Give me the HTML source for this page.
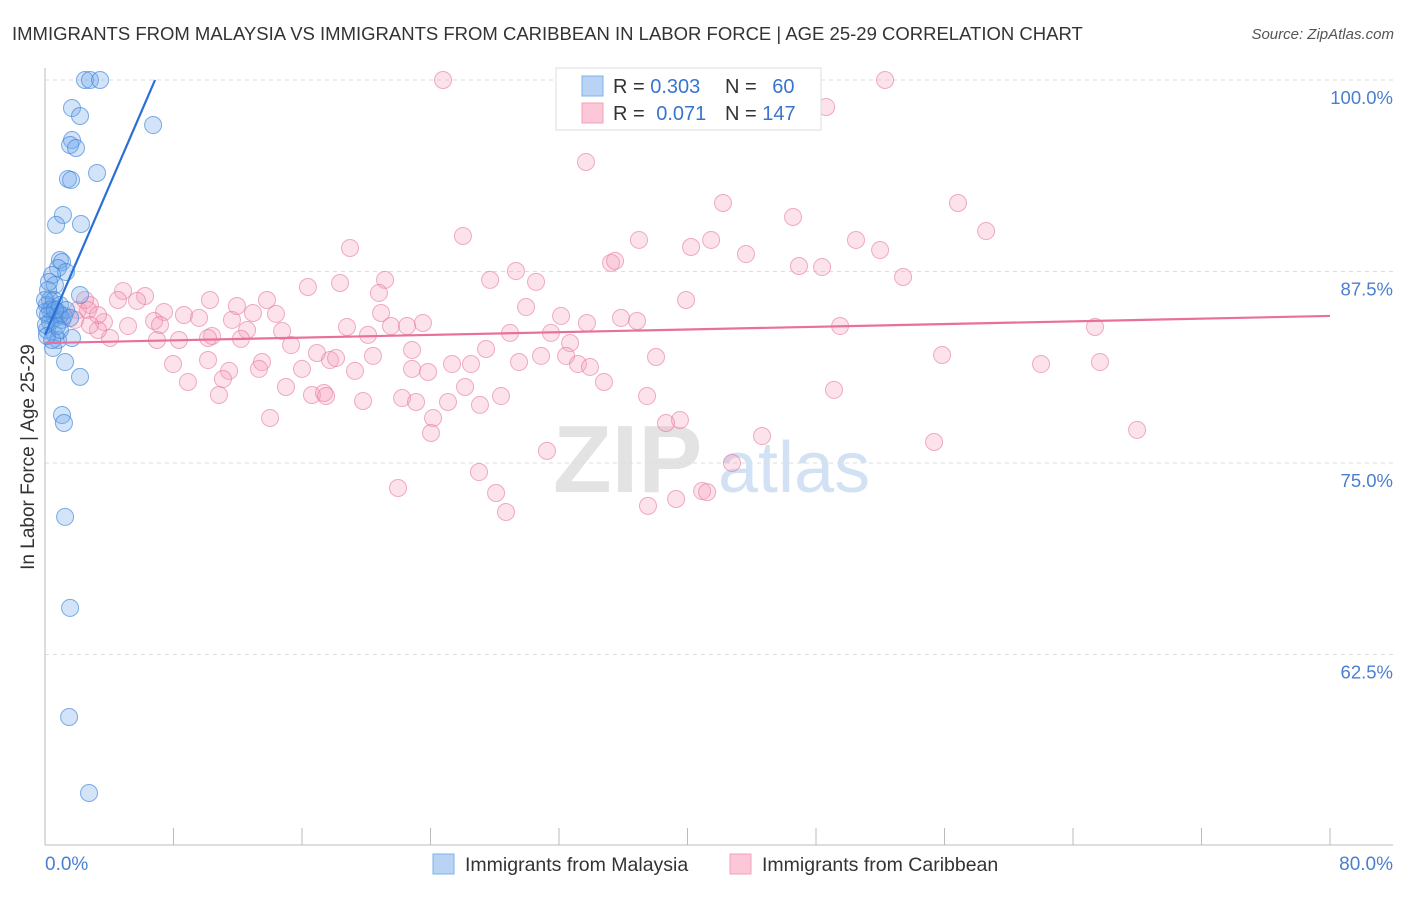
<!DOCTYPE html>
<html><head><meta charset="utf-8"><style>
body{margin:0;background:#fff;font-family:"Liberation Sans",sans-serif;}
svg text{font-family:"Liberation Sans",sans-serif;}
</style></head><body>
<svg id="chart" width="1406" height="892" viewBox="0 0 1406 892" xmlns="http://www.w3.org/2000/svg">
<text x="12" y="40" font-size="18.5" fill="#333">IMMIGRANTS FROM MALAYSIA VS IMMIGRANTS FROM CARIBBEAN IN LABOR FORCE | AGE 25-29 CORRELATION CHART</text>
<text x="1394" y="39" font-size="15" fill="#555" font-style="italic" text-anchor="end">Source: ZipAtlas.com</text>
<g>
<text x="553" y="492" font-size="96" fill="#ddd" font-family="Liberation Serif" font-weight="bold" opacity="0.8">ZIP</text>
<text x="718" y="492" font-size="72" fill="#c7dbf2" opacity="0.8">atlas</text>
</g>
<g id="grid"></g>
<g id="axes"></g>
<g id="pts"></g>
<g id="lines"></g>
<text transform="translate(34,457) rotate(-90)" font-size="19" fill="#333" text-anchor="middle">In Labor Force | Age 25-29</text>
<g>
<rect x="556" y="68" width="265" height="62" fill="#fff" stroke="#ddd"/>
<rect x="582" y="76" width="21" height="20" fill="#b9d3f5" stroke="#7fb0ea"/>
<rect x="582" y="103" width="21" height="20" fill="#fcc8d8" stroke="#f0a0bc"/>
<text x="613" y="93" font-size="20" fill="#333">R = <tspan fill="#3a74d0">0.303</tspan></text>
<text x="725" y="93" font-size="20" fill="#333">N = <tspan fill="#3a74d0" dx="10">60</tspan></text>
<text x="613" y="120" font-size="20" fill="#333">R = <tspan fill="#3a74d0" dx="6">0.071</tspan></text>
<text x="725" y="120" font-size="20" fill="#333">N = <tspan fill="#3a74d0">147</tspan></text>
</g>
<g>
<rect x="433" y="854" width="21" height="20" fill="#b9d3f5" stroke="#7fb0ea"/>
<text x="465" y="871" font-size="19.5" fill="#333">Immigrants from Malaysia</text>
<rect x="730" y="854" width="21" height="20" fill="#fcc8d8" stroke="#f0a0bc"/>
<text x="762" y="871" font-size="19.5" fill="#333">Immigrants from Caribbean</text>
</g>
</svg>
<script>
const yTicks=[100,87.5,75,62.5];
const yTickLabels=["100.0%","87.5%","75.0%","62.5%"];
const xTicks=[0,8,16,24,32,40,48,56,64,72,80];
const xEndLabels=["0.0%","80.0%"];
const blueX=[2.49,2.80,3.43,1.68,2.18,1.68,1.56,1.93,6.73,1.43,1.62,3.24,1.12,0.69,2.24,0.93,1.06,0.81,1.31,0.44,0.62,2.18,0.31,0.12,0.44,0.19,0.62,0.93,0.31,0.12,0.62,0.81,1.68,0.50,1.25,2.18,1.06,1.18,1.25,1.56,1.50,2.74,0.19,0.31,0.81,1.06,0,0.56,1.18,0.06,0.75,0.93,0.44,0,0.25,1.31,1.56,0.12,0.62,0.93];
const blueY=[100,100,100,98.17,97.65,96.08,95.76,95.56,97.06,93.54,93.47,93.93,91.19,90.54,90.60,88.25,88.12,87.73,87.47,87.27,86.62,85.97,85.64,85.31,85.12,84.66,84.47,84.66,84.20,83.68,83.36,83.03,83.16,82.51,81.59,80.62,78.13,77.61,71.48,65.54,58.42,53.46,86.29,84.99,84.86,84.34,84.86,85.64,84.60,84.01,83.94,85.31,83.03,85.64,86.82,84.99,84.47,83.29,84.99,83.68];
const pinkX=[24.78,52.30,48.63,33.68,42.21,56.84,46.57,58.59,26.02,36.98,41.47,40.22,50.49,18.99,51.99,43.64,29.32,35.24,35.49,46.94,48.38,27.71,21.17,18.37,16.37,30.57,53.42,39.91,20.79,29.95,4.86,6.23,5.73,4.54,2.80,2.05,3.67,5.17,7.41,8.65,9.59,6.79,11.64,11.95,12.95,13.82,14.38,12.58,14.76,10.40,10.15,8.34,6.97,12.20,4.05,3.30,18.80,20.92,21.54,22.54,23.53,20.11,28.95,31.50,32.13,33.74,35.86,36.86,49.50,65.37,15.32,16.93,17.74,18.12,20.42,22.85,27.46,32.69,29.51,30.88,32.44,33.18,33.93,38.04,55.85,62.01,65.68,7.97,10.15,13.51,11.46,13.32,16.00,19.30,22.85,23.85,25.34,26.52,11.08,8.90,15.00,26.15,34.80,10.83,16.62,17.37,17.50,19.80,22.23,23.10,25.09,27.08,28.39,37.48,49.12,24.16,14.01,39.53,38.66,24.03,44.64,55.35,67.99,31.25,42.77,27.02,21.98,28.08,40.91,41.22,28.70,37.54,39.29,2.49,2.68,0.93,1.87,3.30,2.80,10.27,7.16];
const pinkY=[100,100,98.24,94.65,91.97,91.97,91.06,90.14,89.82,89.56,89.56,89.10,89.56,89.03,88.90,88.64,87.53,88.06,88.19,87.86,87.79,86.95,86.95,86.75,86.49,86.82,87.14,85.64,86.10,85.18,86.23,85.90,85.58,85.64,85.31,84.99,84.20,83.94,84.86,84.66,84.47,84.27,84.34,85.25,84.79,85.64,84.73,83.68,83.62,83.29,83.16,83.03,83.03,83.10,83.16,83.68,83.88,84.79,83.94,83.94,84.14,83.36,83.49,83.49,84.60,84.14,84.47,84.27,83.94,83.88,82.70,82.18,81.72,81.85,81.99,82.38,82.44,82.83,81.59,81.99,81.99,81.46,81.27,81.92,82.05,81.46,81.59,81.46,81.72,81.59,81.01,81.14,81.14,81.01,81.14,80.94,81.46,81.46,80.48,80.29,79.96,79.96,80.29,79.44,79.44,79.57,79.37,79.05,79.24,78.98,78.98,78.79,79.37,79.37,79.77,77.94,77.94,77.81,77.61,76.96,76.76,76.37,77.16,75.79,75.00,74.41,73.37,73.04,73.17,73.10,71.80,72.20,72.65,85.64,84.99,84.66,84.34,84.66,84.01,85.64,84.01];
const blueTrend=[[0,83.36],[6.85,100]];
const pinkTrend=[[0,82.83],[80,84.60]];

const NS="http://www.w3.org/2000/svg";
const X0=45,X1=1330,Y100=80,PXPER=191.5/12.5;
const sx=v=>X0+(v/80)*(X1-X0);
const sy=v=>Y100+(100-v)*PXPER;
function mk(tag,attrs,parent){const e=document.createElementNS(NS,tag);for(const k in attrs)e.setAttribute(k,attrs[k]);parent.appendChild(e);return e;}
const grid=document.getElementById('grid'),axes=document.getElementById('axes'),pts=document.getElementById('pts'),lines=document.getElementById('lines');
yTicks.forEach((t,i)=>{
 const l=mk('line',{x1:X0,x2:1393,y1:sy(t),y2:sy(t),stroke:'#ddd','stroke-dasharray':'4,4'},grid);
 
 
 const tx=mk('text',{x:1393,y:sy(t)+24,'font-size':18.5,fill:'#4a7fd0','text-anchor':'end'},axes);
 
 
 tx.textContent=yTickLabels[i];
});
const ya=mk('line',{x1:X0,x2:X0,y1:68,y2:845,stroke:'#bbb'},axes);


const xa=mk('line',{x1:X0,x2:1393,y1:845,y2:845,stroke:'#bbb'},axes);


xTicks.forEach(t=>{
 const l=mk('line',{x1:sx(t),x2:sx(t),y1:828,y2:845,stroke:'#bbb'},axes);
 
 
});
const xl0=mk('text',{x:45,y:870,'font-size':19,fill:'#4a7fd0'},axes);


xl0.textContent=xEndLabels[0];
const xl1=mk('text',{x:1393,y:870,'font-size':19,fill:'#4a7fd0','text-anchor':'end'},axes);


xl1.textContent=xEndLabels[1];
pinkX.forEach((v,i)=>{
 const c=mk('circle',{cx:sx(v),cy:sy(pinkY[i]),r:8.5,fill:'rgba(244,160,190,0.3)',stroke:'rgba(230,120,160,0.6)','stroke-width':1},pts);
 
 
});
blueX.forEach((v,i)=>{
 const c=mk('circle',{cx:sx(v),cy:sy(blueY[i]),r:8.5,fill:'rgba(110,165,235,0.3)',stroke:'rgba(60,130,215,0.65)','stroke-width':1},pts);
 
 
});
const bl=mk('line',{x1:sx(blueTrend[0][0]),y1:sy(blueTrend[0][1]),x2:sx(blueTrend[1][0]),y2:sy(blueTrend[1][1]),stroke:'#2a6fd6','stroke-width':2.2},lines);


const pl=mk('line',{x1:sx(pinkTrend[0][0]),y1:sy(pinkTrend[0][1]),x2:sx(pinkTrend[1][0]),y2:sy(pinkTrend[1][1]),stroke:'#e8709a','stroke-width':2.2},lines);


</script>
</body></html>
